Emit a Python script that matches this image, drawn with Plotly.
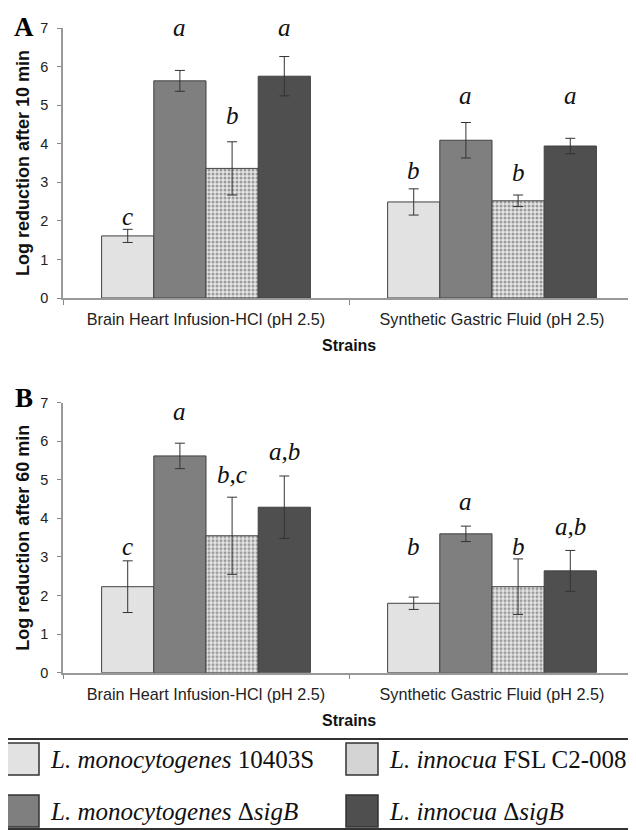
import plotly.graph_objects as go

# ---------------- data ----------------
categories = ["Brain Heart Infusion-HCl (pH 2.5)", "Synthetic Gastric Fluid (pH 2.5)"]
strains = ["L. monocytogenes 10403S", "L. monocytogenes ΔsigB",
           "L. innocua FSL C2-008", "L. innocua ΔsigB"]

# Panel A: log reduction after 10 min
a_10403S = [1.61, 2.49]
a_msigB = [5.63, 4.09]
a_innocua = [3.36, 2.52]
a_isigB = [5.75, 3.94]
a_err_10403S = [0.17, 0.34]
a_err_msigB = [0.27, 0.46]
a_err_innocua = [0.69, 0.15]
a_err_isigB = [0.51, 0.20]
a_letters = [["c", "b"], ["a", "a"], ["b", "b"], ["a", "a"]]

# Panel B: log reduction after 60 min
b_10403S = [2.23, 1.80]
b_msigB = [5.62, 3.60]
b_innocua = [3.55, 2.23]
b_isigB = [4.29, 2.64]
b_err_10403S = [0.67, 0.16]
b_err_msigB = [0.33, 0.20]
b_err_innocua = [1.00, 0.72]
b_err_isigB = [0.81, 0.53]
b_letters = [["c", "b"], ["a", "a"], ["b,c", "b"], ["a,b", "a,b"]]

# label heights (y, in axis units)
a_label_y = [[2.1, 3.3], [7.0, 5.26], [4.74, 3.26], [7.0, 5.26]]
b_label_y = [[3.27, 3.27], [6.77, 4.43], [5.13, 3.28], [5.73, 3.79]]

# ---------------- style ----------------
# the page body has an 8px default margin: figure is sized/offset to compensate
OFF = 8
W, H = 636 - OFF, 830 - OFF


def px(x):
    return (x - OFF) / W


def py(y):
    return 1 - (y - OFF) / H


styles = [
    dict(color="#e2e2e2", pattern=dict(shape="+", fgcolor="#d6d6d6", bgcolor="#e3e3e3", size=4, solidity=0.1)),
    dict(color="#7f7f7f", pattern=None),
    dict(color="#d4d4d4", pattern=dict(shape=".", fgcolor="#9a9a9a", bgcolor="#e6e6e6", size=4, solidity=0.45)),
    dict(color="#4f4f4f", pattern=None),
]
BARGAP = 0.27
SANS = "Liberation Sans"
SERIF = "Liberation Serif"

X0, X1 = 63, 635
panels = [
    dict(top=28, bot=298, vals=[a_10403S, a_msigB, a_innocua, a_isigB],
         errs=[a_err_10403S, a_err_msigB, a_err_innocua, a_err_isigB],
         letters=a_letters, ly=a_label_y, title="Log reduction after 10 min",
         tag="A", tagy=27, strainsy=345),
    dict(top=402.7, bot=672.7, vals=[b_10403S, b_msigB, b_innocua, b_isigB],
         errs=[b_err_10403S, b_err_msigB, b_err_innocua, b_err_isigB],
         letters=b_letters, ly=b_label_y, title="Log reduction after 60 min",
         tag="B", tagy=398, strainsy=720),
]

fig = go.Figure()
annotations = []
bar_px = (X1 - X0) / len(categories) * (1 - BARGAP) / len(strains)

for p_i, p in enumerate(panels):
    xa = "x" if p_i == 0 else "x2"
    ya = "y" if p_i == 0 else "y2"
    for s_i, name in enumerate(strains):
        st = styles[s_i]
        marker = dict(color=st["color"], line=dict(color="#404040", width=1))
        if st["pattern"]:
            marker["pattern"] = st["pattern"]
        fig.add_trace(go.Bar(
            x=categories, y=p["vals"][s_i], name=name, xaxis=xa, yaxis=ya,
            marker=marker, showlegend=False,
            error_y=dict(type="data", array=p["errs"][s_i], color="#333333",
                         thickness=1, width=5),
        ))
        for c_i, cat in enumerate(categories):
            annotations.append(dict(
                x=cat, y=p["ly"][s_i][c_i], xref=xa, yref=ya,
                text="<i>%s</i>" % p["letters"][s_i][c_i], showarrow=False,
                xshift=(s_i - 1.5) * bar_px, xanchor="center", yanchor="middle",
                font=dict(family=SERIF, size=25, color="#111"),
            ))
    ycen = (p["top"] + p["bot"]) / 2
    annotations.append(dict(x=px(23), y=py(ycen), xref="paper", yref="paper",
                            xanchor="center", yanchor="middle",
                            text="<b>%s</b>" % p["title"], textangle=-90, showarrow=False,
                            font=dict(family=SANS, size=18, color="#111")))
    annotations.append(dict(x=px((X0 + X1) / 2), y=py(p["strainsy"]), xref="paper", yref="paper",
                            xanchor="center", yanchor="middle",
                            text="<b>Strains</b>", showarrow=False,
                            font=dict(family=SANS, size=16, color="#111")))
    annotations.append(dict(x=px(24), y=py(p["tagy"]), xref="paper", yref="paper",
                            xanchor="center", yanchor="middle",
                            text="<b>%s</b>" % p["tag"], showarrow=False,
                            font=dict(family=SERIF, size=27, color="#000")))

axis_common_x = dict(type="category", tickson="boundaries", ticks="outside", ticklen=5,
                     tickcolor="#888", showline=True, linecolor="#999", linewidth=1.5,
                     tickfont=dict(family=SANS, size=16.2, color="#222"),
                     ticklabelstandoff=6, showgrid=False, automargin=False,
                     domain=[px(X0), px(X1)])
axis_common_y = dict(range=[0, 7], dtick=1, ticks="outside", ticklen=4, tickcolor="#888",
                     showline=True, linecolor="#999", linewidth=1.5, showgrid=False,
                     zeroline=False, automargin=False, ticklabelstandoff=6,
                     tickfont=dict(family=SANS, size=14.5, color="#222"))

fig.update_layout(
    template="none",
    width=W, height=H, margin=dict(l=0, r=0, t=0, b=0, pad=0),
    paper_bgcolor="white", plot_bgcolor="white",
    barmode="group", bargap=BARGAP, bargroupgap=0,
    xaxis=dict(**axis_common_x, anchor="y"),
    yaxis=dict(**axis_common_y, anchor="x", domain=[py(298), py(28)]),
    xaxis2=dict(**axis_common_x, anchor="y2"),
    yaxis2=dict(**axis_common_y, anchor="x2", domain=[py(672.7), py(402.7)]),
)

# ---------------- legend (drawn) ----------------
shapes = [dict(type="rect", xref="paper", yref="paper", x0=px(2), x1=px(634),
               y0=py(829), y1=py(739), line=dict(color="#333", width=2))]
legend_pos = [(7, 743), (7, 795), (346, 743), (346, 795)]
legend_text = [
    "<i>L. monocytogenes</i> 10403S",
    "<i>L. monocytogenes</i> Δ<i>sigB</i>",
    "<i>L. innocua</i> FSL C2-008",
    "<i>L. innocua</i> Δ<i>sigB</i>",
]
for i, (lx, ly) in enumerate(legend_pos):
    shapes.append(dict(type="rect", xref="paper", yref="paper",
                       x0=px(lx), x1=px(lx + 32), y0=py(ly + 32), y1=py(ly),
                       fillcolor=styles[i]["color"], line=dict(color="#333", width=1.5)))
    annotations.append(dict(x=px(lx + 41), y=py(ly + 16), xref="paper", yref="paper",
                            text=legend_text[i], showarrow=False, xanchor="left",
                            yanchor="middle",
                            font=dict(family=SERIF, size=25, color="#111")))

fig.update_layout(shapes=shapes, annotations=annotations)
fig.write_html("out.html")
